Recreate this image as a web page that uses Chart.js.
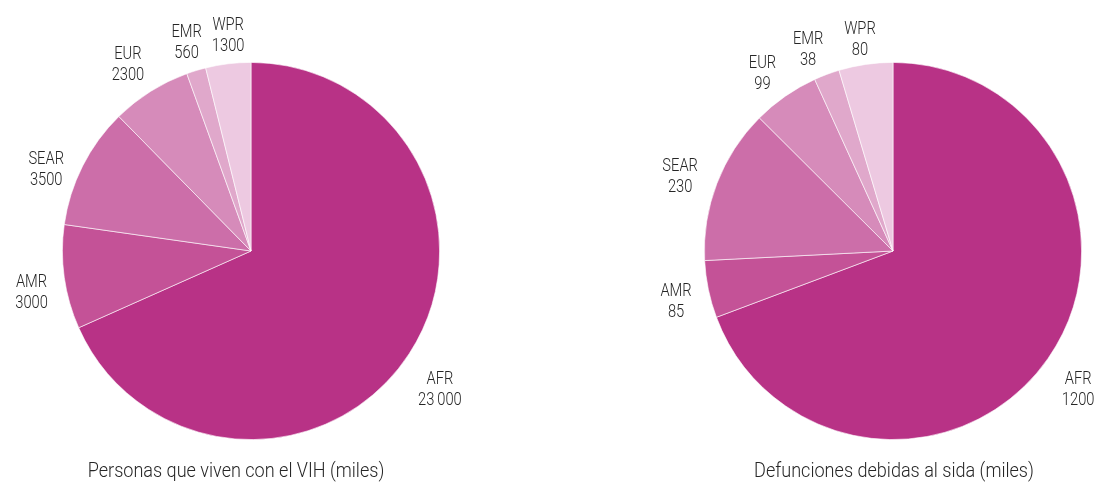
<!DOCTYPE html>
<html>
<head>
<meta charset="utf-8">
<script src="https://cdn.jsdelivr.net/npm/chart.js@4/dist/chart.umd.min.js"></script>
<style>
  html, body { margin: 0; padding: 0; background: #fff; overflow: hidden; }
  #wrap { position: relative; width: 1098px; height: 485px; }
  canvas { position: absolute; top: 0; }
  #c1 { left: 0; }
  #c2 { left: 642px; }
</style>
</head>
<body>
<div id="wrap">
  <canvas id="c1" width="549" height="485"></canvas>
  <canvas id="c2" width="456" height="485"></canvas>
</div>
<script>
// ---- data ----
const regions = ['AFR', 'AMR', 'SEAR', 'EUR', 'EMR', 'WPR'];
const hivValues = [23000, 3000, 3500, 2300, 560, 1300];
const hivLabels = ['23\u2009000', '3000', '3500', '2300', '560', '1300'];
const deathValues = [1200, 85, 230, 99, 38, 80];
const deathLabels = ['1200', '85', '230', '99', '38', '80'];
const hivTitle = 'Personas que viven con el VIH (miles)';
const deathTitle = 'Defunciones debidas al sida (miles)';

// ---- style ----
const sliceColors = ['#b83286', '#c45297', '#cc6ea9', '#d68bba', '#e0a8cb', '#edc9e1'];
const FONT = 'Roboto, "Liberation Sans", sans-serif';
const LABEL_SQUEEZE = 0.84;
const TITLE_SQUEEZE = 0.86;
const labelNudge1 = [[3, 18], [0, 11], [-7, 19], [-5, 2], [0, 4], [4, 5]];
const labelNudge2 = [[3, 13], [0, 6], [-6, 6], [-4, 5], [-7, 7], [-1, 8]];

function squeezedText(ctx, text, x, y, k) {
  ctx.save();
  ctx.translate(x, y);
  ctx.scale(k, 1);
  ctx.fillText(text, 0, 0);
  ctx.restore();
}

function outerLabels(texts, nudges, title, titleX) {
  return {
    id: 'outerLabels',
    afterDraw(chart) {
      const ctx = chart.ctx;
      const meta = chart.getDatasetMeta(0);
      ctx.save();
      ctx.fillStyle = '#262626';
      ctx.font = '300 17.5px ' + FONT;
      ctx.textAlign = 'center';
      ctx.textBaseline = 'middle';
      meta.data.forEach((arc, i) => {
        const p = arc.getProps(['x', 'y', 'startAngle', 'endAngle', 'outerRadius'], true);
        const mid = (p.startAngle + p.endAngle) / 2;
        const d = p.outerRadius + 33;
        const x = p.x + Math.cos(mid) * d + nudges[i][0];
        const y = p.y + Math.sin(mid) * d + nudges[i][1];
        squeezedText(ctx, regions[i], x, y - 10.5, LABEL_SQUEEZE);
        squeezedText(ctx, texts[i], x, y + 10.5, LABEL_SQUEEZE);
      });
      ctx.font = '300 21px ' + FONT;
      squeezedText(ctx, title, titleX, 472, TITLE_SQUEEZE);
      ctx.restore();
    }
  };
}

function makePie(id, values, texts, nudges, title, titleX, padding) {
  new Chart(document.getElementById(id), {
    type: 'pie',
    data: {
      labels: regions,
      datasets: [{
        data: values,
        backgroundColor: sliceColors,
        borderColor: 'rgba(255,255,255,0.75)',
        borderWidth: 0.8
      }]
    },
    options: {
      responsive: false,
      animation: false,
      layout: { padding: padding },
      plugins: { legend: { display: false }, tooltip: { enabled: false } }
    },
    plugins: [outerLabels(texts, nudges, title, titleX)]
  });
}

makePie('c1', hivValues, hivLabels, labelNudge1, hivTitle, 236,
  { left: 62, right: 109, top: 62, bottom: 45 });
makePie('c2', deathValues, deathLabels, labelNudge2, deathTitle, 894 - 642,
  { left: 62, right: 16, top: 62, bottom: 45 });
</script>
</body>
</html>
